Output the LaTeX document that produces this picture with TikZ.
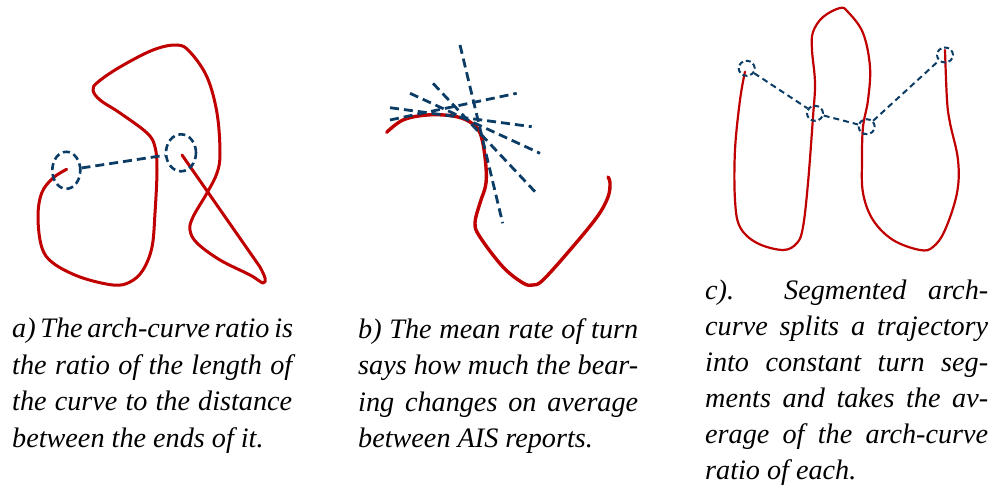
\documentclass[tikz,border=0pt]{standalone}
\usepackage{fontspec}
\setmainfont{Liberation Serif}[ItalicFont={Liberation Serif Italic}]
\usetikzlibrary{shapes.geometric}
\definecolor{trackred}{HTML}{C00000}
\definecolor{markblue}{HTML}{0B3C66}
\newcommand{\fullline}[2][280pt]{\makebox[#1][s]{#2}}

\begin{document}
\begin{tikzpicture}[x=1pt,y=-1pt]
\tikzset{
  trackline/.style={trackred,line width=3pt,line cap=round,line join=round},
  tangent/.style={markblue,line width=2.8pt,dash pattern=on 9pt off 5pt},
  endmark/.style={ellipse,draw=markblue,line width=2.6pt,dash pattern=on 7pt off 4pt,minimum width=28pt,minimum height=37pt,inner sep=0pt},
  segmark/.style={ellipse,draw=markblue,line width=2pt,dash pattern=on 5pt off 3pt,minimum width=16pt,minimum height=15pt,inner sep=0pt},
  caption/.style={anchor=north west,inner sep=0pt,align=left,font=\fontsize{28.2}{36.5}\selectfont\itshape}
}
\useasboundingbox (0,0) rectangle (991,489);

% a) arch-curve ratio
\draw[trackline] plot[smooth,tension=0.6] coordinates {(66.7,169.3) (53,178) (41.7,193) (38,217) (41.7,247) (53,263) (80,277) (113,285) (130,282) (143,270) (152,247) (155,213) (157,170) (155,147) (147,133) (120,113) (100,100) (93,90) (98,82) (120,67) (153,50) (177,45) (190,52) (207,77) (217,113) (220,153) (217,173) (207,193) (193,217) (190,230) (197,243) (220,260) (250,275) (263,283) (265,278) (260,267)} -- (182,155);
\node[endmark] (a_start) at (66.3,170.3) {};
\node[endmark,minimum width=30pt] (a_end) at (181,152.8) {};
\draw[tangent] (a_start) -- (a_end);

% b) mean rate of turn
\draw[trackline,line width=3.4pt] plot[smooth,tension=0.6] coordinates {(386.7,132.3) (403,120) (427,115) (453,116) (470,122) (480,133) (485,157) (486,183) (480,203) (475,223) (480,237) (503,267) (523,283) (533,285) (543,280) (570,250) (597,217) (608,197) (610,183) (608,177)};
\draw[tangent] (460,45) -- (502.7,223.3);
\draw[tangent] (390,107.7) -- (531.7,126.7);
\draw[tangent] (390,120) -- (516.7,93.3);
\draw[tangent] (410,93.3) -- (540,153.3);
\draw[tangent] (433,83.3) -- (535,191.7);

% c) segmented arch-curve
\draw[trackline,line width=2.2pt] plot[smooth,tension=0.6] coordinates {(745,71.7) (740,100) (735,150) (735,200) (740,227) (757,243) (783,250) (797,243) (803,227) (808,183) (813,117) (815,83) (812,50) (813,32) (823,17) (840,8) (848,12) (863,33) (870,67) (868,100) (863,127) (862,160) (863,193) (873,220) (893,240) (920,250) (933,247) (945,230) (957,193) (958,160) (950,123) (947,100) (945,50)};
\node[segmark] (c_p0) at (746.7,68.3) {};
\node[segmark] (c_p1) at (815,113.3) {};
\node[segmark] (c_p2) at (866.7,126.7) {};
\node[segmark] (c_p3) at (945,55) {};
\draw[tangent,line width=2pt,dash pattern=on 6pt off 4pt] (c_p0) -- (c_p1) -- (c_p2) -- (c_p3);

% captions
\node[caption] (cap_a) at (12,318) {\fullline{a)\,The arch-curve ratio is}\\
  \fullline{the ratio of the length of}\\
  \fullline{the curve to the distance}\\
  between the ends of it.};
\node[caption] (cap_b) at (358,318) {\fullline{b) The mean rate of turn}\\
  \fullline{says how much the bear-}\\
  \fullline{ing changes on average}\\
  between AIS reports.};
\node[caption,font=\fontsize{28.2}{36}\selectfont\itshape] (cap_c) at (705,280) {\fullline[283pt]{c).\hspace{0pt plus 2.3fill}Segmented\hspace{0pt plus 1fill}arch-}\\
  \fullline[283pt]{curve splits a trajectory}\\
  \fullline[283pt]{into constant turn seg-}\\
  \fullline[283pt]{ments and takes the av-}\\
  \fullline[283pt]{erage of the arch-curve}\\
  ratio of each.};
\end{tikzpicture}
\end{document}
